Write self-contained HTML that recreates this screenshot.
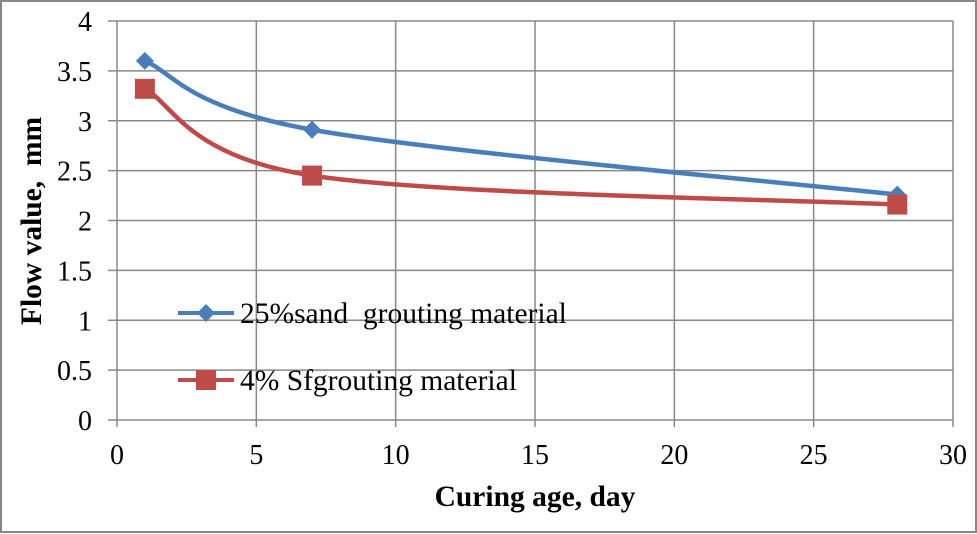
<!DOCTYPE html>
<html><head><meta charset="utf-8"><style>
html,body{margin:0;padding:0;background:#fff}
svg{display:block;font-family:"Liberation Serif",serif}
</style></head><body>
<svg id="chart" width="977" height="534">
<rect x="1" y="1" width="975" height="531" fill="#fff" stroke="#888" stroke-width="2"/>
<g id="grid"></g>
<g id="series"></g>
<text x="0" y="0" transform="translate(41,221) rotate(-90)" text-anchor="middle" font-size="29.5" font-weight="bold" xml:space="preserve" style="white-space:pre">Flow value,  mm</text>
<text x="535" y="506" text-anchor="middle" font-size="29.5" font-weight="bold">Curing age, day</text>
<g>
<g>
<line x1="178" y1="313" x2="234" y2="313" stroke="#4a7ebb" stroke-width="4"/>
<path d="M206,304 L215,313 L206,322 L197,313Z" fill="#4a7ebb"/>
<text x="240" y="323" font-size="29.5" xml:space="preserve" style="white-space:pre">25%sand  grouting material</text></g>
<g>
<line x1="178" y1="380" x2="234" y2="380" stroke="#be4b48" stroke-width="4"/>
<rect x="196" y="370" width="20" height="20" fill="#be4b48"/>
<text x="240" y="390" font-size="29.5">4% Sfgrouting material</text></g>
</g>
</svg>
<script>
const xTicks=[0,5,10,15,20,25,30];
const yTicks=[0,0.5,1,1.5,2,2.5,3,3.5,4];
const days=[1,7,28];
const sandValues=[3.6,2.91,2.26];
const sfValues=[3.32,2.45,2.16];
const NS="http://www.w3.org/2000/svg";
const X=v=>117+v*(953-117)/30, Y=v=>420-v*(420-21)/4;
function mk(t,a,p){const e=document.createElementNS(NS,t);for(const k in a)e.setAttribute(k,a[k]);p.appendChild(e);return e;}
const g=document.getElementById('grid'), s=document.getElementById('series');
xTicks.forEach(t=>{const l=mk('line',{x1:X(t),x2:X(t),y1:Y(4),y2:427,stroke:'#888','stroke-width':1.5},g);

const tx=mk('text',{x:X(t),y:464,'text-anchor':'middle','font-size':28},g);tx.textContent=t;
});
yTicks.forEach(t=>{const l=mk('line',{x1:108,x2:X(30),y1:Y(t),y2:Y(t),stroke:'#888','stroke-width':1.5},g);

const tx=mk('text',{x:92,y:Y(t)+10,'text-anchor':'end','font-size':28},g);tx.textContent=t;
});
function smooth(pts){let d=`M${pts[0][0]},${pts[0][1]}`;const k=1/6;
for(let i=0;i<pts.length-1;i++){const p0=pts[i-1]||pts[i],p1=pts[i],p2=pts[i+1],p3=pts[i+2]||p2;
d+=` C${p1[0]+(p2[0]-p0[0])*k},${p1[1]+(p2[1]-p0[1])*k} ${p2[0]-(p3[0]-p1[0])*k},${p2[1]-(p3[1]-p1[1])*k} ${p2[0]},${p2[1]}`;}return d;}
function series(vals,col,name,sq){const pts=days.map((d,i)=>[X(d),Y(vals[i])]);
const p=mk('path',{d:smooth(pts),fill:'none',stroke:col,'stroke-width':4.5},s);

pts.forEach(q=>{let m;if(sq)m=mk('rect',{x:q[0]-10,y:q[1]-10,width:20,height:20,fill:col},s);
else m=mk('path',{d:`M${q[0]},${q[1]-9} L${q[0]+9},${q[1]} L${q[0]},${q[1]+9} L${q[0]-9},${q[1]}Z`,fill:col},s);
});}
series(sandValues,'#4a7ebb','sand-series',false);
series(sfValues,'#be4b48','sf-series',true);
</script>
</body></html>
